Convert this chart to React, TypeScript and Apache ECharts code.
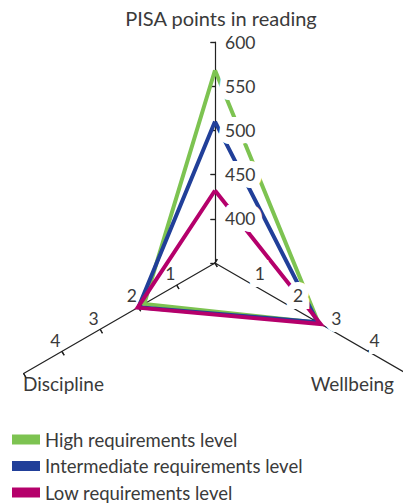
import React, { useEffect, useRef } from "react";
import * as echarts from "echarts";

const axisNames = ["PISA points in reading", "Discipline", "Wellbeing"];
const readingMin = 350;
const readingMax = 600;
const scaleMin = 0;
const scaleMax = 5;
const seriesNames = [
  "High requirements level",
  "Intermediate requirements level",
  "Low requirements level",
];
const highValues = [568, 1.85, 2.7];
const intermediateValues = [510, 2.0, 2.68];
const lowValues = [432, 2.02, 2.76];
const hiddenTickLabels = [350, 0, 5];

const COLORS = ["#7DC351", "#213F99", "#B5006B"];
const FONT = "Lato";
const TEXT = "#3a3a3a";
const CENTER = [215, 263];
const RADIUS = 221;

const baseIndicators = () => [
  { name: axisNames[0], min: readingMin, max: readingMax },
  { name: axisNames[1], min: scaleMin, max: scaleMax },
  { name: axisNames[2], min: scaleMin, max: scaleMax },
];

const radarBase = {
  center: CENTER,
  radius: RADIUS,
  startAngle: 90,
  splitNumber: 5,
  shape: "polygon",
  axisName: { show: false },
  splitLine: { show: false },
  splitArea: { show: false },
};

export default function App() {
  const ref = useRef<HTMLDivElement>(null);
  useEffect(() => {
    if (!ref.current) return;
    const chart = echarts.init(ref.current, null, { renderer: "svg" });
    const labelStyle = {
      show: true,
      fontFamily: FONT,
      fontSize: 17.5,
      color: TEXT,
      textBorderColor: "#fff",
      textBorderWidth: 14,
      formatter: (v: number) => (hiddenTickLabels.includes(v) ? "" : String(v)),
    };
    const ind = baseIndicators();
    const labelIndicators = [
      { ...ind[0], axisLabel: { ...labelStyle, margin: -10, align: "left", verticalAlign: "middle" } },
      { ...ind[1], axisLabel: { ...labelStyle, margin: -13, align: "center", verticalAlign: "middle", textBorderWidth: 0 } },
      { ...ind[2], axisLabel: { ...labelStyle, margin: 13, align: "center", verticalAlign: "middle" } },
    ];
    const option = {
      animation: false,
      radar: [
        {
          ...radarBase,
          indicator: baseIndicators(),
          axisLine: { show: true, lineStyle: { color: "#222", width: 1.2 } },
          axisTick: { show: true, length: 4.5, lineStyle: { color: "#222", width: 1.2 } },
          axisLabel: { show: false },
        },
        {
          ...radarBase,
          indicator: baseIndicators(),
          axisLine: { show: false },
          axisTick: { show: true, inside: true, length: 4.5, lineStyle: { color: "#222", width: 1.2 } },
          axisLabel: { show: false },
        },
        {
          ...radarBase,
          z: 10,
          indicator: labelIndicators,
          axisLine: { show: false },
          axisTick: { show: false },
          axisLabel: labelStyle,
        },
      ],
      legend: {
        orient: "vertical",
        left: 7,
        top: 425,
        height: 80,
        itemWidth: 28,
        itemHeight: 10,
        itemGap: 7.5,
        icon: "rect",
        textStyle: { fontFamily: FONT, fontSize: 18.5, lineHeight: 18, color: TEXT },
        data: seriesNames,
      },
      graphic: [
        { type: "text", x: 221, y: 8, style: { text: axisNames[0], align: "center", verticalAlign: "top", font: `20px ${FONT}`, fill: TEXT } },
        { type: "text", x: 23, y: 374, style: { text: axisNames[1], align: "left", verticalAlign: "top", font: `19px ${FONT}`, fill: TEXT } },
        { type: "text", x: 394, y: 374, style: { text: axisNames[2], align: "right", verticalAlign: "top", font: `19px ${FONT}`, fill: TEXT } },
      ],
      series: [highValues, intermediateValues, lowValues].map((vals, i) => ({
        type: "radar",
        radarIndex: 0,
        name: seriesNames[i],
        symbol: "none",
        z: 2,
        itemStyle: { color: COLORS[i] },
        lineStyle: { color: COLORS[i], width: 4, join: "miter" },
        data: [{ name: seriesNames[i], value: vals }],
      })),
    };
    chart.setOption(option as any);
    return () => chart.dispose();
  }, []);
  return (
    <div
      ref={ref}
      style={{ position: "fixed", left: 0, top: 0, width: 403, height: 503, background: "#fff" }}
    />
  );
}
